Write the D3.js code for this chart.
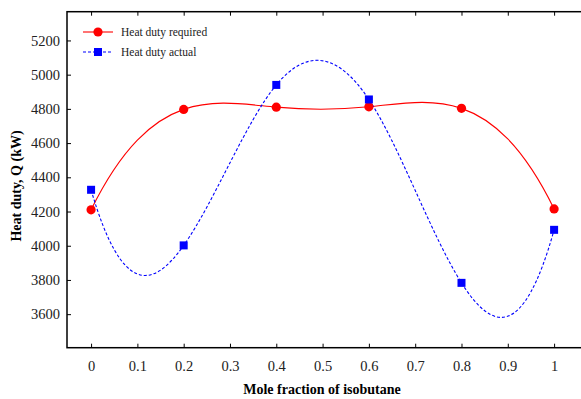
<!DOCTYPE html>
<html>
<head>
<meta charset="utf-8">
<script src="https://cdn.jsdelivr.net/npm/d3@7"></script>
<style>
  body { margin: 0; background: #fff; }
  svg { display: block; font-family: "Liberation Serif", "DejaVu Serif", serif; }
</style>
</head>
<body>
<svg id="main" width="581" height="399"></svg>
<script>
// mole fraction of isobutane
var fractions = [0, 0.2, 0.4, 0.6, 0.8, 1]
// heat duty values, kW
var required = [4210, 4797, 4810, 4812, 4803, 4215]
var actual = [4327, 4002, 4940, 4855, 3783, 4093]
var xTicks = [0, 0.1, 0.2, 0.3, 0.4, 0.5, 0.6, 0.7, 0.8, 0.9, 1]
var yTicks = [3600, 3800, 4000, 4200, 4400, 4600, 4800, 5000, 5200]
var seriesNames = ["Heat duty required", "Heat duty actual"]

// cubic spline curve with not-a-knot ends, drawn as bezier pieces
function curveSpline(context) {
    var xs, ys
    return {
        areaStart: function() {},
        areaEnd: function() {},
        lineStart: function() { xs = []; ys = [] },
        point: function(px, py) { xs.push(+px); ys.push(+py) },
        lineEnd: function() {
            var n = xs.length
            if (n === 0) return
            context.moveTo(xs[0], ys[0])
            if (n < 4) {
                for (var k = 1; k < n; k++) context.lineTo(xs[k], ys[k])
                return
            }
            var h = [], i
            for (i = 0; i < n - 1; i++) h.push(xs[i + 1] - xs[i])
            // solve for second derivatives M (dense small system)
            var A = [], b = []
            for (i = 0; i < n; i++) { A.push(new Array(n).fill(0)); b.push(0) }
            A[0][0] = h[1]; A[0][1] = -(h[0] + h[1]); A[0][2] = h[0]
            for (i = 1; i < n - 1; i++) {
                A[i][i - 1] = h[i - 1]
                A[i][i] = 2 * (h[i - 1] + h[i])
                A[i][i + 1] = h[i]
                b[i] = 6 * ((ys[i + 1] - ys[i]) / h[i] - (ys[i] - ys[i - 1]) / h[i - 1])
            }
            A[n - 1][n - 3] = h[n - 2]; A[n - 1][n - 2] = -(h[n - 3] + h[n - 2]); A[n - 1][n - 1] = h[n - 3]
            // gaussian elimination
            for (var c = 0; c < n; c++) {
                var p = c
                for (var r = c + 1; r < n; r++) if (Math.abs(A[r][c]) > Math.abs(A[p][c])) p = r
                var t = A[c]; A[c] = A[p]; A[p] = t
                t = b[c]; b[c] = b[p]; b[p] = t
                for (r = c + 1; r < n; r++) {
                    var f = A[r][c] / A[c][c]
                    for (var k2 = c; k2 < n; k2++) A[r][k2] -= f * A[c][k2]
                    b[r] -= f * b[c]
                }
            }
            var M = new Array(n)
            for (i = n - 1; i >= 0; i--) {
                var s = b[i]
                for (var j = i + 1; j < n; j++) s -= A[i][j] * M[j]
                M[i] = s / A[i][i]
            }
            for (i = 0; i < n - 1; i++) {
                var hi = h[i]
                var d0 = (ys[i + 1] - ys[i]) / hi - hi * (2 * M[i] + M[i + 1]) / 6
                var d1 = (ys[i + 1] - ys[i]) / hi + hi * (M[i] + 2 * M[i + 1]) / 6
                context.bezierCurveTo(
                    xs[i] + hi / 3, ys[i] + d0 * hi / 3,
                    xs[i + 1] - hi / 3, ys[i + 1] - d1 * hi / 3,
                    xs[i + 1], ys[i + 1])
            }
        }
    }
}

var svg = d3.select('#main')
var plotL = 67, plotR = 586, plotT = 11.7, plotB = 347.7

var x = d3.scaleLinear().domain([-0.052, 1.0689]).range([plotL, plotR])
var y = d3.scaleLinear().domain([3404, 5368]).range([plotB, plotT])

// frame (right side falls outside the picture)
svg.append('rect')
    .attr('x', plotL).attr('y', plotT)
    .attr('width', plotR - plotL).attr('height', plotB - plotT)
    .attr('fill', 'none').attr('stroke', '#000').attr('stroke-width', 1.5)

// ticks (inward) and labels
var xAxis = d3.axisBottom(x).tickValues(xTicks).tickSize(-4).tickPadding(13)
    .tickFormat(function(d) { return d3.format('~g')(d) })
var gx = svg.append('g').attr('transform', 'translate(0,' + plotB + ')').call(xAxis)
gx.select('.domain').remove()
var gxTop = svg.append('g').attr('transform', 'translate(0,' + plotT + ')')
    .call(d3.axisTop(x).tickValues(xTicks).tickSize(-4).tickFormat(''))
gxTop.select('.domain').remove()

var yAxis = d3.axisLeft(y).tickValues(yTicks).tickSize(-4).tickPadding(7)
    .tickFormat(d3.format('d'))
var gy = svg.append('g').attr('transform', 'translate(' + plotL + ',0)').call(yAxis)
gy.select('.domain').remove()

svg.selectAll('.tick line').attr('stroke', '#000').attr('stroke-width', 1)
svg.selectAll('.tick text')
    .attr('fill', '#222')
    .style('font-family', '"Liberation Serif", serif')
    .style('font-size', '14.5px')

// curves
var line = d3.line()
    .x(function(d) { return x(d[0]) })
    .y(function(d) { return y(d[1]) })
    .curve(curveSpline)

var reqPts = fractions.map(function(f, i) { return [f, required[i]] })
var actPts = fractions.map(function(f, i) { return [f, actual[i]] })

svg.append('path').datum(reqPts)
    .attr('d', line).attr('fill', 'none')
    .attr('stroke', '#ff0000').attr('stroke-width', 1.1)
svg.append('path').datum(actPts)
    .attr('d', line).attr('fill', 'none')
    .attr('stroke', '#0000ff').attr('stroke-width', 1.1)
    .attr('stroke-dasharray', '3,2')

svg.selectAll('circle.req').data(reqPts).enter().append('circle')
    .attr('class', 'req')
    .attr('cx', function(d) { return x(d[0]) })
    .attr('cy', function(d) { return y(d[1]) })
    .attr('r', 4.6)
    .attr('fill', '#ff0000')
svg.selectAll('rect.act').data(actPts).enter().append('rect')
    .attr('class', 'act')
    .attr('x', function(d) { return x(d[0]) - 4 })
    .attr('y', function(d) { return y(d[1]) - 4 })
    .attr('width', 8).attr('height', 8)
    .attr('fill', '#0000ff')

// legend
var lg = svg.append('g').attr('transform', 'translate(83,32)')
lg.append('line').attr('x1', 0).attr('x2', 30).attr('y1', 0).attr('y2', 0)
    .attr('stroke', '#ff0000').attr('stroke-width', 1.1)
lg.append('circle').attr('cx', 15).attr('cy', 0).attr('r', 4.6).attr('fill', '#ff0000')
lg.append('line').attr('x1', 0).attr('x2', 30).attr('y1', 20).attr('y2', 20)
    .attr('stroke', '#0000ff').attr('stroke-width', 1.1).attr('stroke-dasharray', '3,2')
lg.append('rect').attr('x', 11).attr('y', 16).attr('width', 8).attr('height', 8).attr('fill', '#0000ff')
lg.selectAll('text').data(seriesNames).enter().append('text')
    .attr('x', 38)
    .attr('y', function(_, i) { return i * 20 + 4 })
    .attr('fill', '#222')
    .style('font-size', '11.5px')
    .text(function(d) { return d })

// axis titles
svg.append('text')
    .attr('x', 322).attr('y', 394)
    .attr('text-anchor', 'middle')
    .style('font-size', '14px').style('font-weight', 'bold')
    .text('Mole fraction of isobutane')
svg.append('text')
    .attr('transform', 'translate(21,186) rotate(-90)')
    .attr('text-anchor', 'middle')
    .style('font-size', '14px').style('font-weight', 'bold')
    .text('Heat duty, Q (kW)')
</script>
</body>
</html>
